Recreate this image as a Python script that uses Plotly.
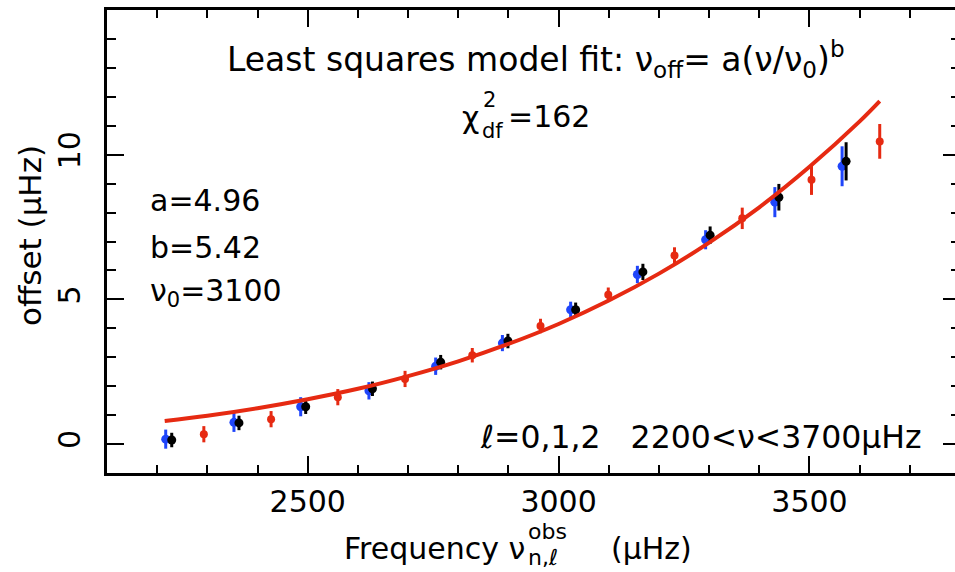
import plotly.graph_objects as go

# ---- data ----
blue_freq = [2217, 2353, 2486, 2622, 2755, 2888, 3024, 3157, 3293, 3431, 3565]
blue_off = [0.17, 0.75, 1.29, 1.84, 2.69, 3.49, 4.64, 5.86, 7.06, 8.36, 9.60]
blue_err = [0.33, 0.33, 0.33, 0.30, 0.30, 0.28, 0.28, 0.30, 0.33, 0.52, 0.69]

black_freq = [2229, 2363, 2496, 2629, 2765, 2899, 3034, 3168, 3302, 3439, 3573]
black_off = [0.14, 0.73, 1.29, 1.91, 2.83, 3.56, 4.64, 5.95, 7.22, 8.53, 9.77]
black_err = [0.25, 0.25, 0.25, 0.25, 0.25, 0.25, 0.25, 0.28, 0.30, 0.46, 0.66]

red_freq = [2293, 2427, 2560, 2694, 2828, 2964, 3099, 3231, 3366, 3504, 3640]
red_off = [0.34, 0.86, 1.62, 2.25, 3.07, 4.08, 5.16, 6.52, 7.80, 9.13, 10.46]
red_err = [0.28, 0.28, 0.28, 0.28, 0.25, 0.25, 0.25, 0.28, 0.37, 0.52, 0.60]

fit_freq = [2215, 2300, 2400, 2500, 2600, 2700, 2800, 2900, 3000, 3100,
            3200, 3300, 3400, 3500, 3600, 3640]
fit_off = [0.80, 0.98, 1.24, 1.55, 1.91, 2.35, 2.86, 3.46, 4.15, 4.96,
           5.89, 6.96, 8.18, 9.58, 11.15, 11.85]

x_ticks = [2500, 3000, 3500]
y_ticks = [0, 5, 10]

BLUE = "#1f45fa"
RED = "#e62a12"
BLACK = "#000000"
FONT = "DejaVu Sans"

W, H = 955, 572
ML, MR, MT, MB = 107, 0, 10, 99
PW, PH = W - ML - MR, H - MT - MB


def px(X):
    return (X - ML) / PW


def py(Y):
    return (H - MB - Y) / PH


fig = go.Figure()


def add_pts(xs, ys, es, color, size):
    fig.add_trace(go.Scatter(
        x=xs, y=ys, mode="markers",
        marker=dict(color=color, size=size, line=dict(width=0)),
        error_y=dict(type="data", array=es, visible=True, color=color,
                     thickness=3, width=0),
        showlegend=False, hoverinfo="skip"))


add_pts(red_freq, red_off, red_err, RED, 8)
add_pts(blue_freq, blue_off, blue_err, BLUE, 9)
add_pts(black_freq, black_off, black_err, BLACK, 9)

fig.add_trace(go.Scatter(
    x=fit_freq, y=fit_off, mode="lines",
    line=dict(color=RED, width=4, shape="spline"),
    showlegend=False, hoverinfo="skip"))

# invisible trace to hold right-side tick axis
fig.add_trace(go.Scatter(x=[2100], y=[-1], yaxis="y2", mode="markers",
                         marker=dict(opacity=0), showlegend=False,
                         hoverinfo="skip"))

tickfont = dict(family=FONT, size=30, color="black")

fig.update_layout(
    width=W, height=H, autosize=False,
    margin=dict(l=ML, r=MR, t=MT, b=MB, pad=0),
    paper_bgcolor="white", plot_bgcolor="white",
    xaxis=dict(range=[2100, 3790], tickvals=x_ticks,
               ticktext=[str(v) for v in x_ticks],
               ticks="inside", ticklen=17, tickwidth=2, tickcolor="black",
               showline=True, linewidth=2.5, linecolor="black",
               mirror="ticks", showgrid=False, zeroline=False,
               tickfont=tickfont,
               minor=dict(dtick=100, tick0=2100, ticks="inside", ticklen=8,
                          tickwidth=2, tickcolor="black", showgrid=False)),
    yaxis=dict(range=[-1, 15], tickvals=y_ticks,
               ticktext=[str(v) for v in y_ticks],
               ticks="inside", ticklen=17, tickwidth=2, tickcolor="black",
               showline=True, linewidth=2.5, linecolor="black",
               mirror=False, showgrid=False, zeroline=False,
               tickangle=-90, tickfont=tickfont, ticklabelstandoff=12,
               minor=dict(dtick=1, tick0=0, ticks="inside", ticklen=9,
                          tickwidth=2, tickcolor="black", showgrid=False)),
    yaxis2=dict(range=[-1, 15], overlaying="y", side="right", anchor="x",
                tickvals=y_ticks, showticklabels=False,
                ticks="inside", ticklen=12, tickwidth=2, tickcolor="black",
                showline=False, showgrid=False, zeroline=False,
                minor=dict(dtick=1, tick0=0, ticks="inside", ticklen=4,
                           tickwidth=2, tickcolor="black", showgrid=False)),
)


def ann(text, X, Y, size=30, xanchor="center", yanchor="middle", angle=0):
    fig.add_annotation(text=text, x=px(X), y=py(Y), xref="paper",
                       yref="paper", showarrow=False, xanchor=xanchor,
                       yanchor=yanchor, textangle=angle,
                       font=dict(family=FONT, size=size, color="black"))


# title formula
ann("Least squares model fit: \u03bd<sub>off</sub>= a(\u03bd/\u03bd<sub>0</sub>)<sup>b</sup>",
    225, 60, size=33, xanchor="left")
# chi^2
ann("\u03c7", 481, 117, xanchor="right")
ann("2", 481, 100, size=21, xanchor="left")
ann("df", 480, 131, size=21, xanchor="left")
ann("=162", 506, 116, xanchor="left")
# parameters
ann("a=4.96", 148, 200, xanchor="left")
ann("b=5.42", 148, 247, xanchor="left")
ann("\u03bd<sub>0</sub>=3100", 148, 293, xanchor="left")
# range label
ann("\u2113=0,1,2\u00a0\u00a0\u00a02200<\u03bd<3700\u03bcHz", 924, 437,
    size=31.5, xanchor="right")
# axis titles
ann("offset (\u03bcHz)", 30, 236, size=31, angle=-90)
ann("Frequency \u03bd", 527, 548, xanchor="right")
ann("obs", 526, 531, size=22, xanchor="left")
ann("n,\u2113", 526, 557, size=22, xanchor="left")
ann("(\u03bcHz)", 609, 548, xanchor="left")

fig.write_html("out.html")
